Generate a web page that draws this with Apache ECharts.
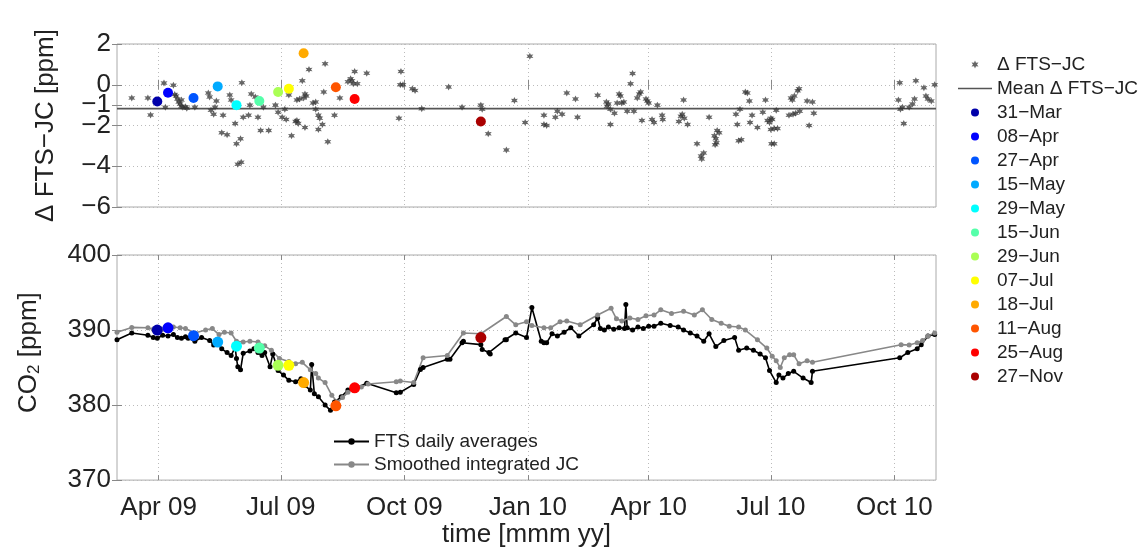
<!DOCTYPE html>
<html>
<head>
<meta charset="utf-8">
<script src="https://cdn.jsdelivr.net/npm/echarts@6/dist/echarts.min.js"></script>
<style>
  html, body { margin: 0; padding: 0; background: #fff; }
  #chart { width: 1142px; height: 549px; }
</style>
</head>
<body>
<div id="chart"></div>
<script>
// x values are days since 1 Mar 2009
const tickDays = [31, 122, 214, 306, 396, 487, 579]
const tickLabels = ['Apr 09', 'Jul 09', 'Oct 09', 'Jan 10', 'Apr 10', 'Jul 10', 'Oct 10']
const deltaTicks = [-6, -4, -2, -1, 0, 2]
const co2Ticks = [370, 380, 390, 400]
const meanDelta = -1.17

const deltaPoints = [
  [11,-0.65],[23,-0.65],[25,-1.48],[35,0.08],[36,-1.1],[42,-0.03],[43,-0.48],[44,-0.55],[45,-0.7],[46,-0.85],
  [47,-0.95],[48,-0.75],[48,-1.05],[49,-1.1],[51,-1.08],[52,-1.15],[58,-1.1],[68,-0.4],[69,-0.6],[70,-1.25],
  [72,-1.45],[73,-1.1],[74,-0.8],[78,-2.35],[79,-1.5],[82,-2.45],[84,-0.5],[85,-0.75],[88,-1.9],[89,-2.9],
  [90,-3.9],[92,-2.65],[92.5,-3.8],[93,0.1],[94,-1.6],[98,-1.5],[99,-1.0],[100,-0.45],[103,-0.6],[105,-1.6],
  [107,-2.25],[109,-1.1],[113,-2.25],[118,-1.0],[120,-1.35],[123,-1.6],[125,-1.2],[126,-1.7],[128,-0.5],[130,-2.5],
  [133,-1.8],[134,-1.75],[134,-0.75],[135,-1.9],[136,-0.7],[138,0.2],[139,-0.65],[140,-0.45],[140,-2.1],[141,-0.55],
  [143,0.75],[146,-0.9],[148,-0.85],[148,-1.2],[150,-1.5],[150,-2.2],[151,-1.65],[153,-1.95],[154,-0.36],[155,1.03],
  [157,-2.8],[162,-1.5],[166,-0.65],[172,0.15],[174,0.3],[175,0.2],[176,0.05],[177,0.65],[179,0.05],[186,0.57],
  [210,-1.65],[211,0.0],[211.5,0.65],[213,0.0],[220,-0.2],[222,-0.28],[227,-1.18],[247,-0.11],[257,-1.1],[271,-1.0],
  [272,-1.2],[276.5,-2.4],[290,-3.2],[296,-0.77],[304,-1.85],[307.5,1.4],[318,-1.5],[318,-1.95],[320,-2.0],[326.5,-1.6],
  [328,-1.3],[331.5,-1.45],[335,-0.4],[341.5,-0.7],[343,-1.6],[358,-0.52],[364.5,-0.85],[365,-1.05],[366,-0.95],[367.5,-1.2],
  [367.5,-1.95],[370.5,-1.4],[372.5,-0.9],[374,-0.45],[375,-0.55],[376,-0.9],[377.5,-0.85],[380,-1.3],[382.5,0.05],[384,0.55],
  [385,-1.3],[387.5,-0.65],[389,-0.45],[390,-0.35],[391,-1.75],[394,-0.7],[395,-0.8],[396,-0.9],[398.5,-1.7],[400,-1.85],
  [402.5,-1.0],[406,-1.5],[406.5,-1.7],[418.5,-1.8],[420,-1.55],[421,-1.45],[422,-0.75],[422.5,-1.65],[425,-1.95],[432,-2.9],
  [435,-3.5],[435.5,-3.65],[437,-3.35],[441,-1.6],[445,-2.5],[445.5,-2.95],[446,-2.65],[446.5,-2.85],[447,-2.25],[448.5,-2.35],
  [461,-1.45],[462,-1.95],[463,-2.75],[464,-1.2],[465,-2.7],[468,-0.35],[469.5,-0.4],[471,-0.8],[471.5,-1.85],[473,-1.5],
  [477,-2.1],[481,-1.35],[483,-0.75],[484.5,-1.75],[486,-1.85],[487,-1.65],[487,-2.2],[487.5,-2.9],[488,-1.7],[489.5,-2.15],
  [489.5,-2.9],[491,-1.25],[492,-2.15],[500.5,-1.5],[502,-0.65],[503,-0.75],[503.5,-1.45],[504.5,-0.55],[505.5,-1.4],[507,-0.3],
  [508,-0.2],[508.5,-1.3],[514,-0.8],[515.5,-2.0],[518,-0.85],[519,-1.4],[582,-0.75],[583,0.1],[583.5,-1.2],[585,-1.1],
  [586,-1.9],[590,-1.1],[592.5,-0.95],[594,-0.7],[595,0.2],[601,-0.15],[602.5,-0.55],[604,-0.7],[606.5,-0.8],[609,0.0]
]

const ftsPoints = [
  [-5,388.3],[0,388.7],[11,389.6],[23,389.3],[27,389.0],[30,388.9],[34,389.3],[38,389.2],[42,389.4],[45,389.0],
  [48,388.9],[51,389.1],[53,388.9],[58,388.5],[63,389.0],[69,388.6],[72,388.0],[74,388.4],[78,387.5],[82,387.0],
  [85,386.6],[88,387.7],[89,386.2],[90,385.1],[92,384.7],[94,386.9],[99,387.2],[102,387.5],[105,387.0],[108,386.6],
  [110,387.0],[114,385.1],[116,386.8],[120,384.6],[124,384.0],[128,383.3],[133,383.1],[137,383.5],[140,382.6],[144,382.0],
  [145,385.4],[147,381.5],[150,381.1],[155,380.0],[159,379.3],[162,380.4],[167,381.1],[172,382.0],[177,382.2],[186,382.9],
  [208,381.65],[211,381.7],[221,382.75],[226,384.75],[228,385.0],[246,386.1],[248,386.1],[257,388.3],[258,388.5],[271,388.05],
  [272,387.4],[277,387.0],[278,386.8],[289,388.7],[290,388.7],[297,389.6],[305,389.0],[309,393.0],[316,388.5],[318,388.3],
  [320,388.3],[324,389.5],[328,389.2],[333,389.7],[338,390.3],[344,389.2],[355,390.7],[358,391.6],[360,390.2],[363,390.0],
  [366,390.4],[370,390.1],[374,390.3],[378,390.2],[379,393.4],[380,390.3],[384,390.0],[388,390.4],[392,390.2],[396,390.5],
  [400,390.5],[405,390.9],[412,390.6],[418,390.4],[422,390.0],[427,389.6],[432,389.2],[437,388.5],[441,389.5],[446,387.8],
  [452,388.6],[460,389.0],[463,387.3],[469,387.6],[474,387.3],[479,386.8],[483,386.3],[486,384.6],[491,383.0],[493,384.0],
  [496,383.6],[500,384.2],[504,384.5],[511,383.6],[517,383.0],[518,384.5],[583,386.3],[589,387.0],[596,387.5],[599,388.05],
  [604,389.2],[609,389.4]
]

const jcPoints = [
  [-5,389.4],[0,389.7],[11,390.35],[23,390.3],[27,390.1],[34,390.1],[42,390.4],[47,390.3],[51,390.2],[58,389.6],
  [66,390.0],[71,390.2],[76,389.4],[80,389.7],[85,389.6],[89,388.5],[94,388.4],[99,388.5],[105,388.4],[110,387.9],
  [115,387.3],[121,386.2],[128,385.8],[133,385.5],[138,385.7],[144,384.7],[148,384.2],[150,383.6],[155,383.0],[160,381.3],
  [164,380.4],[168,381.0],[172,381.7],[176,382.2],[182,382.4],[187,382.8],[208,383.1],[211,383.2],[221,383.0],[228,386.3],
  [246,386.6],[258,389.6],[271,389.5],[290,391.8],[297,390.7],[305,391.1],[309,390.6],[318,390.3],[323,390.3],[330,391.1],
  [335,391.2],[345,390.7],[358,392.0],[368,392.9],[372,391.5],[376,391.2],[382,391.6],[388,391.4],[394,391.9],[400,392.0],
  [405,392.7],[413,392.2],[422,392.5],[430,392.0],[436,392.7],[443,391.4],[450,390.9],[456,390.5],[463,390.4],[468,390.0],
  [477,388.7],[484,387.6],[488,386.5],[491,385.9],[494,385.0],[497,386.3],[501,386.7],[504,386.7],[508,385.5],[514,385.9],
  [518,385.7],[584,388.05],[590,388.0],[596,388.3],[600,388.6],[604,389.2],[609,389.6]
]

const eventNames = ['31\u2212Mar', '08\u2212Apr', '27\u2212Apr', '15\u2212May', '29\u2212May', '15\u2212Jun',
  '29\u2212Jun', '07\u2212Jul', '18\u2212Jul', '11\u2212Aug', '25\u2212Aug', '27\u2212Nov']
const eventDays = [30, 38, 57, 75, 89, 106, 120, 128, 139, 163, 177, 271]
const eventDelta = [-0.82, -0.39, -0.65, -0.08, -1.0, -0.8, -0.36, -0.2, 1.55, -0.12, -0.7, -1.8]
const eventCO2 = [390.0, 390.3, 389.25, 388.4, 387.85, 387.6, 385.3, 385.3, 383.0, 379.9, 382.3, 389.0]
const eventColors = ['#0000aa', '#0000ff', '#0055ff', '#00aaff', '#00ffff', '#55ffaa',
  '#aaff55', '#ffff00', '#ffaa00', '#ff5500', '#ff0000', '#aa0000']

const FONT = 'Liberation Sans, Arial, sans-serif'
const TXT = '#222'
const star = 'path://M0,-10L2.5,-4.3L8.7,-5L5,0L8.7,5L2.5,4.3L0,10L-2.5,4.3L-8.7,5L-5,0L-8.7,-5L-2.5,-4.3Z'
const flatLine = 'path://M0,0L34,0L34,1.4L0,1.4Z'
const minus = v => String(v).replace('-', '\u2212')

const chart = echarts.init(document.getElementById('chart'), null, {renderer: 'canvas'})

const gridLine = {show: true, lineStyle: {color: '#bbb', type: [1, 3], width: 1}}
const tick = vals => ({show: true, inside: true, length: 5, customValues: vals, lineStyle: {color: '#888'}})

function xAx(gridIndex, labels) {
  return {
    type: 'value', gridIndex, min: 0, max: 610,
    axisLine: {show: false},
    axisTick: tick(tickDays),
    axisLabel: labels ? {
      show: true, customValues: tickDays, margin: 15, fontSize: 26, color: TXT, fontFamily: FONT,
      formatter: v => tickLabels[tickDays.indexOf(v)]
    } : {show: false},
    splitLine: gridLine,
    name: labels ? 'time [mmm yy]' : '',
    nameLocation: 'middle', nameGap: 40,
    nameTextStyle: {fontSize: 26, color: TXT, fontFamily: FONT}
  }
}
// box ticks along top and right edges, as in the original figure
function topAx(gridIndex) {
  return {
    type: 'value', gridIndex, position: 'top', min: 0, max: 610,
    axisLine: {show: false}, axisTick: tick(tickDays), axisLabel: {show: false}, splitLine: {show: false}
  }
}
function rightAx(gridIndex, min, max, vals) {
  return {
    type: 'value', gridIndex, position: 'right', min, max,
    axisLine: {show: false}, axisTick: tick(vals), axisLabel: {show: false}, splitLine: {show: false}
  }
}

const series = [
  {
    name: '\u0394 FTS\u2212JC', type: 'scatter', xAxisIndex: 0, yAxisIndex: 0,
    data: deltaPoints, symbol: star, symbolSize: 7,
    itemStyle: {color: '#333', opacity: 0.75}, z: 2
  },
  {
    name: 'Mean \u0394 FTS\u2212JC', type: 'line', xAxisIndex: 0, yAxisIndex: 0,
    data: [[0, meanDelta], [610, meanDelta]], symbol: 'none', showSymbol: false,
    lineStyle: {color: '#555', width: 1.6}, itemStyle: {color: '#555'}, z: 1
  },
  {
    name: 'FTS daily averages', type: 'line', xAxisIndex: 1, yAxisIndex: 1,
    data: ftsPoints, symbol: 'circle', symbolSize: 5,
    lineStyle: {color: '#000', width: 1.6}, itemStyle: {color: '#000'}, z: 2
  },
  {
    name: 'Smoothed integrated JC', type: 'line', xAxisIndex: 1, yAxisIndex: 1,
    data: jcPoints, symbol: 'circle', symbolSize: 5,
    lineStyle: {color: '#888', width: 1.6}, itemStyle: {color: '#888'}, z: 2
  }
]
eventNames.forEach((name, i) => {
  series.push({
    name, type: 'scatter', xAxisIndex: 0, yAxisIndex: 0,
    data: [[eventDays[i], eventDelta[i]]], symbolSize: 10,
    itemStyle: {color: eventColors[i], opacity: 1}, z: 5
  })
  series.push({
    name, type: 'scatter', xAxisIndex: 1, yAxisIndex: 1,
    data: [[eventDays[i], eventCO2[i]]], symbolSize: 11,
    itemStyle: {color: eventColors[i], opacity: 1}, z: 5
  })
})

const option = {
  backgroundColor: '#fff',
  animation: false,
  textStyle: {fontFamily: FONT},
  grid: [
    {left: 117, top: 44, width: 819, height: 163, show: true, borderColor: '#aaa', borderWidth: 1, backgroundColor: '#fff'},
    {left: 117, top: 255, width: 819, height: 227, show: true, borderColor: '#aaa', borderWidth: 1, backgroundColor: '#fff'}
  ],
  xAxis: [xAx(0, false), xAx(1, true), topAx(0), topAx(1)],
  yAxis: [
    {
      type: 'value', gridIndex: 0, min: -6, max: 2,
      axisLine: {show: false},
      axisTick: tick(deltaTicks),
      axisLabel: {customValues: deltaTicks, fontSize: 26, color: TXT, fontFamily: FONT, margin: 6, formatter: minus},
      splitLine: gridLine,
      name: '\u0394 FTS\u2212JC [ppm]', nameLocation: 'middle', nameRotate: 90, nameGap: 58,
      nameTextStyle: {fontSize: 26, color: TXT, fontFamily: FONT}
    },
    {
      type: 'value', gridIndex: 1, min: 370, max: 400,
      axisLine: {show: false},
      axisTick: tick(co2Ticks),
      axisLabel: {customValues: co2Ticks, fontSize: 26, color: TXT, fontFamily: FONT, margin: 6},
      splitLine: gridLine,
      name: '{a|CO}{s|2}{a| [ppm]}', nameLocation: 'middle', nameRotate: 90, nameGap: 74,
      nameTextStyle: {
        color: TXT, fontFamily: FONT, padding: [0, 0, 0, 30],
        rich: {
          a: {fontSize: 26, color: TXT, fontFamily: FONT},
          s: {fontSize: 17, color: TXT, fontFamily: FONT, verticalAlign: 'bottom', padding: [12, 0, 0, 0]}
        }
      }
    },
    rightAx(0, -6, 2, deltaTicks),
    rightAx(1, 370, 400, co2Ticks)
  ],
  legend: [
    {
      orient: 'vertical', left: 953, top: 50, itemWidth: 34, itemHeight: 8, itemGap: 5,
      textStyle: {fontSize: 19, lineHeight: 19, color: TXT, fontFamily: FONT},
      data: [{name: '\u0394 FTS\u2212JC', icon: star}, {name: 'Mean \u0394 FTS\u2212JC', icon: flatLine}]
        .concat(eventNames.map(n => ({name: n, icon: 'circle'})))
    },
    {
      orient: 'vertical', left: 328, top: 427, itemWidth: 35, itemHeight: 8, itemGap: 4,
      textStyle: {fontSize: 19, lineHeight: 19, color: TXT, fontFamily: FONT},
      data: ['FTS daily averages', 'Smoothed integrated JC']
    }
  ],
  series
}

chart.setOption(option)
</script>
</body>
</html>
